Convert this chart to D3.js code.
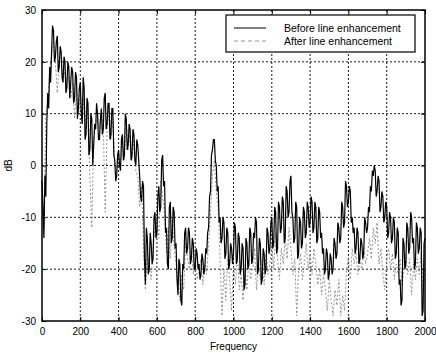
<!DOCTYPE html>
<html>
<head>
<meta charset="utf-8">
<script src="https://cdn.jsdelivr.net/npm/d3@7"></script>
<style>
  body { margin: 0; background: #fff; }
  svg { display: block; font-family: "Liberation Sans", Arial, sans-serif; }
</style>
</head>
<body>
<svg id="chart" width="436" height="358"></svg>
<script>
// spectra (dB); before every 5 Hz, after every 10 Hz
const beforeStep = 5;
const before = [
  -3, -8, -14, -2, -6, 8, 14, 11, 19, 16, 22, 27, 26, 20, 21, 24, 25, 18, 19, 23,
  22, 17, 16, 21, 20, 14, 15, 20, 19, 13, 16, 19, 18, 12, 13, 18, 17, 9, 11, 15,
  16, 10, 8, 17, 15, 5, 6, 13, 12, 2, 3, 10, 9, 0, 4, 8, 7, 12, 10, 5,
  5, 9, 11, 6, 7, 13, 14, 7, 8, 12, 12, 5, 6, 11, 11, 2, 1, -3, -2, 2,
  3, 0, -1, 5, 6, 1, 2, 10, 9, 3, 4, 8, 7, 1, 2, 7, 6, 1, 0, 5,
  4, 1, -2, -6, -7, -3, -4, -18, -23, -12, -14, -21, -20, -13, -15, -19, -18, -10, -9, -14,
  -13, -6, -4, -9, -8, 1, 2, -4, -3, -13, -12, -19, -20, -8, -7, -15, -14, -8, -9, -16,
  -15, -22, -25, -18, -19, -26, -27, -19, -20, -13, -12, -17, -16, -12, -13, -19, -18, -14, -15, -20,
  -20, -16, -17, -20, -19, -22, -21, -17, -18, -21, -20, -16, -17, -13, -12, -6, -5, 2, 3, 5,
  5, 1, 0, -5, -4, -11, -10, -15, -14, -10, -11, -18, -17, -12, -13, -20, -19, -15, -16, -19,
  -17, -11, -12, -19, -18, -13, -14, -21, -20, -15, -16, -24, -23, -14, -15, -20, -19, -12, -13, -19,
  -18, -13, -14, -10, -11, -21, -20, -14, -15, -23, -22, -16, -17, -21, -20, -12, -13, -17, -16, -11,
  -10, -16, -15, -8, -9, -17, -16, -7, -8, -13, -12, -6, -7, -15, -14, -4, -5, -10, -9, -3,
  -2, -9, -10, -15, -14, -7, -8, -18, -17, -10, -11, -16, -15, -8, -9, -14, -13, -7, -8, -12,
  -11, -6, -7, -13, -12, -7, -8, -15, -14, -8, -9, -14, -13, -17, -16, -21, -20, -16, -17, -22,
  -21, -17, -18, -21, -20, -14, -15, -18, -17, -11, -12, -15, -14, -7, -8, -12, -11, -3, -4, -8,
  -7, -4, -5, -11, -10, -13, -12, -17, -16, -12, -13, -19, -18, -14, -15, -18, -17, -10, -11, -13,
  -12, -8, -9, -4, -5, -1, -2, 0, -1, -6, -5, -2, -3, -9, -8, -5, -6, -11, -10, -7,
  -8, -14, -13, -9, -10, -15, -14, -10, -11, -18, -17, -12, -13, -23, -22, -27, -26, -14, -15, -20,
  -19, -11, -12, -17, -16, -9, -10, -15, -14, -20, -19, -11, -12, -17, -16, -12, -13, -29, -28, -15,
  -14
];
const afterStep = 10;
const after = [
  -5, -12, 10, 12, 18, 21, 24, 20, 14, 20,
  20, 17, 18, 16, 17, 13, 16, 9, 15, 10,
  14, 9, 13, 7, 11, -2, -12, 5, 8, 9,
  7, 10, 8, -9, 7, 11, 5, 9, 0, -1,
  2, 0, 5, 1, 8, 3, 6, 1, 5, -1,
  -2, -8, -4, -15, -24, -17, -19, -22, -16, -12,
  -10, -14, -3, -6, -9, -17, -12, -18, -10, -16,
  -19, -22, -26, -21, -24, -15, -18, -20, -16, -21,
  -18, -22, -20, -18, -23, -19, -21, -15, -9, -2,
  1, -5, -8, -18, -29, -20, -26, -18, -22, -28,
  -19, -23, -17, -24, -21, -26, -20, -24, -18, -22,
  -20, -16, -24, -19, -22, -18, -23, -17, -21, -19,
  -15, -20, -13, -18, -22, -16, -19, -14, -18, -12,
  -16, -21, -18, -29, -20, -17, -22, -19, -15, -20,
  -17, -21, -16, -19, -23, -20, -25, -21, -24, -28,
  -22, -26, -29, -24, -27, -22, -29, -25, -28, -20,
  -18, -22, -16, -19, -17, -21, -18, -20, -16, -19,
  -17, -14, -18, -12, -15, -11, -19, -16, -21, -24,
  -18, -16, -20, -17, -22, -19, -21, -18, -23, -20,
  -17, -21, -18, -25, -19, -22, -18, -21, -17, -24,
  -20
];
const xTicks = [0, 200, 400, 600, 800, 1000, 1200, 1400, 1600, 1800, 2000];
const yTicks = [-30, -20, -10, 0, 10, 20, 30];
const seriesNames = ['Before line enhancement', 'After line enhancement'];

const svg = d3.select('#chart');
const plotLeft = 42, plotRight = 425, plotTop = 10, plotBottom = 321;

const x = d3.scaleLinear().domain([0, 2000]).range([plotLeft, plotRight]);
const y = d3.scaleLinear().domain([-30, 30]).range([plotBottom, plotTop]);

// dotted grid
const grid = svg.append('g')
  .attr('stroke', '#000')
  .attr('stroke-width', 0.9)
  .attr('stroke-dasharray', '2,2');
grid.selectAll('.vg')
  .data(xTicks.slice(1, -1))
  .enter().append('line')
  .attr('x1', d => x(d)).attr('x2', d => x(d))
  .attr('y1', plotTop).attr('y2', plotBottom);
grid.selectAll('.hg')
  .data(yTicks.slice(1, -1))
  .enter().append('line')
  .attr('x1', plotLeft).attr('x2', plotRight)
  .attr('y1', d => y(d)).attr('y2', d => y(d));

// the two traces
const lineFor = step => d3.line()
  .x((d, i) => x(i * step))
  .y(d => y(d));

svg.append('path')
  .datum(after)
  .attr('fill', 'none')
  .attr('stroke', '#888')
  .attr('stroke-width', 0.9)
  .attr('stroke-dasharray', '2,2')
  .attr('d', lineFor(afterStep));

svg.append('path')
  .datum(before)
  .attr('fill', 'none')
  .attr('stroke', '#000')
  .attr('stroke-width', 1.2)
  .attr('d', lineFor(beforeStep));

// axes, ticks inward
const fmt = d => String(d);
svg.append('g')
  .attr('transform', `translate(0,${plotBottom})`)
  .call(d3.axisBottom(x).tickValues(xTicks).tickFormat(fmt).tickSize(-4).tickPadding(7));
svg.append('g')
  .attr('transform', `translate(${plotLeft},0)`)
  .call(d3.axisLeft(y).tickValues(yTicks).tickFormat(fmt).tickSize(-4).tickPadding(6));
svg.append('g')
  .attr('transform', `translate(0,${plotTop})`)
  .call(d3.axisTop(x).tickValues(xTicks).tickSize(-4).tickFormat(''));
svg.append('g')
  .attr('transform', `translate(${plotRight},0)`)
  .call(d3.axisRight(y).tickValues(yTicks).tickSize(-4).tickFormat(''));

svg.selectAll('.domain').remove();
svg.selectAll('.tick line').attr('stroke', '#000');
svg.selectAll('.tick text')
  .attr('font-size', 10)
  .attr('font-family', '"Liberation Sans", Arial, sans-serif')
  .attr('fill', '#000');

// plot frame
svg.append('rect')
  .attr('x', plotLeft).attr('y', plotTop)
  .attr('width', plotRight - plotLeft).attr('height', plotBottom - plotTop)
  .attr('fill', 'none')
  .attr('stroke', '#000')
  .attr('stroke-width', 1.5);

// axis labels
svg.append('text')
  .attr('x', (plotLeft + plotRight) / 2).attr('y', 350)
  .attr('text-anchor', 'middle')
  .attr('font-size', 10)
  .text('Frequency');
svg.append('text')
  .attr('transform', `translate(12,${y(0)}) rotate(-90)`)
  .attr('text-anchor', 'middle')
  .attr('font-size', 10)
  .text('dB');

// legend
const legend = svg.append('g');
legend.append('rect')
  .attr('x', 226).attr('y', 15)
  .attr('width', 189).attr('height', 37)
  .attr('fill', '#fff')
  .attr('stroke', '#000')
  .attr('stroke-width', 1.2);
const legendStyles = [
  { stroke: '#000', dash: null, width: 1 },
  { stroke: '#888', dash: '4,3', width: 0.9 }
];
seriesNames.forEach((name, i) => {
  const ly = 28 + i * 13;
  legend.append('line')
    .attr('x1', 234).attr('x2', 266)
    .attr('y1', ly).attr('y2', ly)
    .attr('stroke', legendStyles[i].stroke)
    .attr('stroke-width', legendStyles[i].width)
    .attr('stroke-dasharray', legendStyles[i].dash);
  legend.append('text')
    .attr('x', 284).attr('y', ly + 4)
    .attr('font-size', 10.5)
    .text(name);
});
</script>
</body>
</html>
